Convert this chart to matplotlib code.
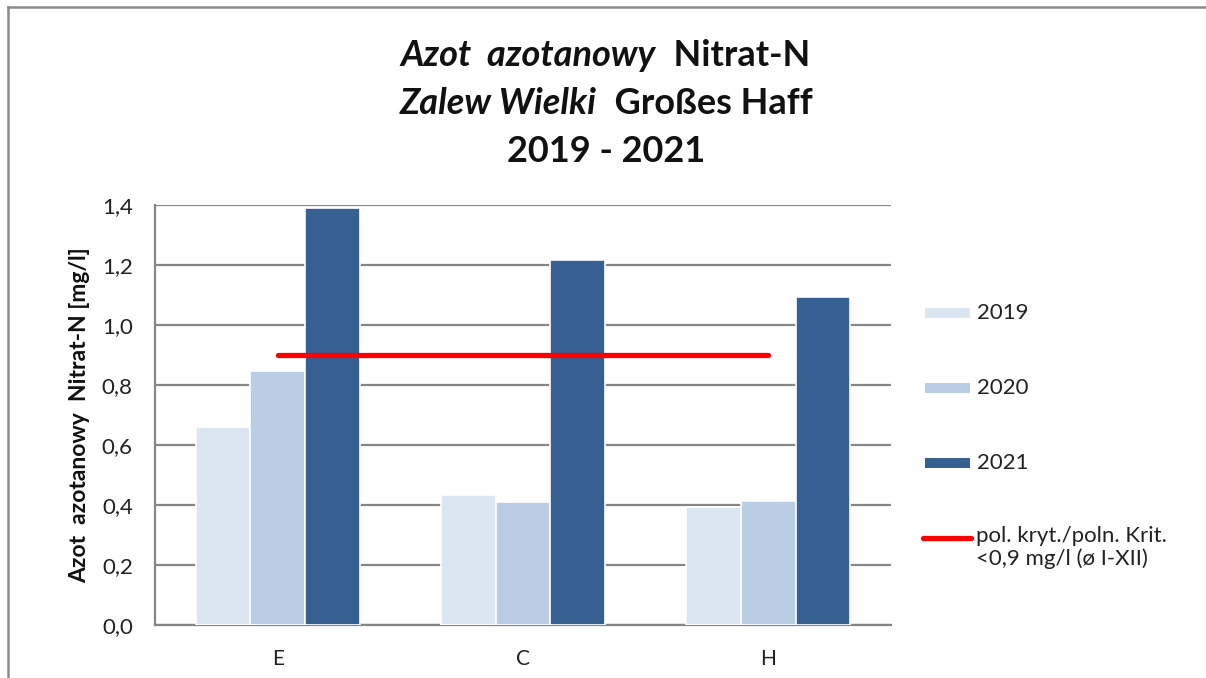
import matplotlib
matplotlib.use("Agg")
import matplotlib.pyplot as plt
import numpy as np
from matplotlib.patches import Rectangle
from matplotlib.lines import Line2D

plt.rcParams['font.family'] = ['Lato', 'DejaVu Sans']

categories = ["E", "C", "H"]
years = ["2019", "2020", "2021"]
values_2019 = [0.66, 0.433, 0.394]
values_2020 = [0.847, 0.409, 0.414]
values_2021 = [1.39, 1.217, 1.093]
threshold = 0.9
threshold_label = "pol. kryt./poln. Krit.\n<0,9 mg/l (ø I-XII)"
ylabel = "Azot  azotanowy  Nitrat-N [mg/l]"
yticks = [0.0, 0.2, 0.4, 0.6, 0.8, 1.0, 1.2, 1.4]
colors = ["#DCE6F2", "#B9CDE5", "#376092"]

W, H = 1206, 678
fig = plt.figure(figsize=(W / 100, H / 100), dpi=100)
fig.patch.set_facecolor("white")

# outer border (top & left visible)
fig.add_artist(Line2D([8 / W, 1], [1 - 7 / H, 1 - 7 / H], color="#8c8c8c", lw=1.8, transform=fig.transFigure))
fig.add_artist(Line2D([8 / W, 8 / W], [0, 1 - 7 / H], color="#8c8c8c", lw=1.8, transform=fig.transFigure))

ax = fig.add_axes([155 / W, 1 - 625 / H, (891 - 155) / W, (625 - 205) / H])
x = np.arange(len(categories))
bw = 0.2224
series = [values_2019, values_2020, values_2021]
for i, (vals, c) in enumerate(zip(series, colors)):
    ax.bar(x + (i - 1) * bw, vals, width=bw, color=c, edgecolor="white", linewidth=1.2, zorder=3)

ax.plot([x[0], x[-1]], [threshold, threshold], color="#FF0000", lw=3.8, solid_capstyle="round", zorder=4)

ax.set_xlim(-0.5, len(categories) - 0.5)
ax.set_ylim(0, 1.4)
ax.set_yticks(yticks)
ax.set_yticklabels([f"{t:.1f}".replace(".", ",") for t in yticks], fontsize=16, color="#222222")
ax.set_xticks(x)
ax.set_xticklabels(categories, fontsize=15, color="#222222")
ax.tick_params(axis="both", length=0)
ax.tick_params(axis="x", pad=17)
ax.tick_params(axis="y", pad=16)
ax.grid(axis="y", color="#868686", lw=1.6, zorder=1)
for s in ["top", "right"]:
    ax.spines[s].set_visible(False)
for s in ["left", "bottom"]:
    ax.spines[s].set_color("#868686")
    ax.spines[s].set_linewidth(1.6)
ax.set_axisbelow(True)

fig.text(80 / W, 1 - 415 / H, ylabel, rotation=90, ha="center", va="center",
         fontsize=16.5, fontweight="bold", color="#111111")

# title with mixed styles
renderer = fig.canvas.get_renderer()
def mixed_line(segments, cx, cy, size):
    texts = []
    for s, style in segments:
        t = fig.text(0, 1 - cy / H, s, fontsize=size, fontweight="bold",
                     fontstyle=style, ha="left", va="center", color="#111111")
        texts.append(t)
    widths = [t.get_window_extent(renderer).width for t in texts]
    total = sum(widths)
    xpos = cx - total / 2
    for t, w in zip(texts, widths):
        t.set_x(xpos / W)
        xpos += w

tsize = 26
mixed_line([("Azot  azotanowy", "italic"), ("  Nitrat-N", "normal")], 605, 56, tsize)
mixed_line([("Zalew Wielki", "italic"), ("  Großes Haff", "normal")], 606, 103, tsize)
mixed_line([("2019 - 2021", "normal")], 606, 152, tsize)

# legend (manual)
leg_y = [313, 388, 463]
for yy, c, lab in zip(leg_y, colors, years):
    fig.add_artist(Rectangle((925 / W, 1 - (yy + 5) / H), 45 / W, 10 / H, facecolor=c,
                             edgecolor="none", transform=fig.transFigure))
    fig.text(977 / W, 1 - yy / H, lab, fontsize=16, ha="left", va="center", color="#222222")
fig.add_artist(Line2D([923 / W, 971 / W], [1 - 538 / H, 1 - 538 / H], color="#FF0000", lw=3.8,
                      solid_capstyle="round", transform=fig.transFigure))
fig.text(976 / W, 1 - 526 / H, threshold_label, fontsize=16, ha="left", va="top",
         color="#222222", linespacing=1.15)

fig.savefig("out.png", dpi=100)
